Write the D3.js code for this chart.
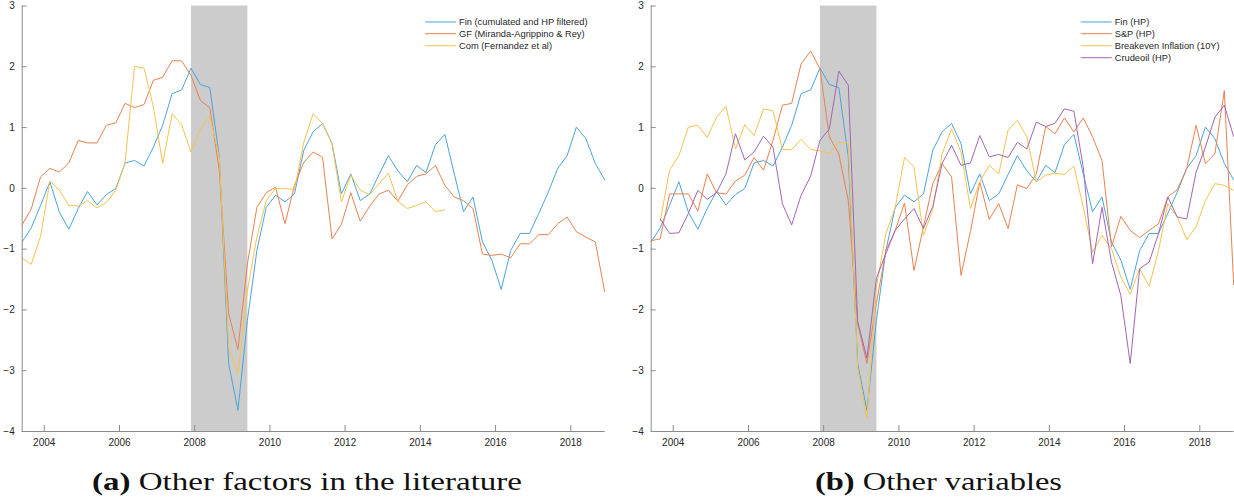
<!DOCTYPE html>
<html>
<head>
<meta charset="utf-8">
<script src="https://cdn.jsdelivr.net/npm/d3@7"></script>
<style>
  body { margin: 0; background: #fff; }
  svg { display: block; }
  .tick-label { font-family: "Liberation Sans", Arial, sans-serif; font-size: 10px; fill: #262626; }
  .legend-label { font-family: "Liberation Sans", Arial, sans-serif; font-size: 9.3px; fill: #262626; }
  .caption { font-family: "Liberation Serif", "Times New Roman", serif; font-size: 26px; fill: #111; }
</style>
</head>
<body>
<svg id="chart" width="1234" height="498"></svg>
<script>
// Quarterly observations, June 2003 to December 2018 (63 quarters)
const firstQuarter = new Date(2003, 5, 1);
const nQuarters = 63;

// Panel (a): other factors in the literature
const finFactor = [-0.90,-0.66,-0.29,0.10,-0.40,-0.68,-0.34,-0.06,-0.28,-0.11,
  -0.01,0.41,0.45,0.36,0.67,1.03,1.55,1.61,1.97,1.70,
  1.65,0.51,-2.89,-3.66,-2.18,-1.03,-0.32,-0.12,-0.23,-0.10,
  0.62,0.92,1.06,0.73,-0.10,0.23,-0.21,-0.10,0.22,0.53,
  0.28,0.10,0.37,0.25,0.71,0.88,0.23,-0.39,-0.15,-0.89,
  -1.19,-1.67,-1.03,-0.75,-0.75,-0.42,-0.07,0.32,0.53,1.00,
  0.81,0.40,0.13];
const gfFactor = [-0.62,-0.35,0.18,0.32,0.26,0.41,0.78,0.74,0.74,1.03,
  1.07,1.39,1.32,1.37,1.77,1.82,2.09,2.09,1.85,1.44,
  1.32,0.29,-2.07,-2.66,-1.25,-0.32,-0.08,0.01,-0.59,0.04,
  0.42,0.59,0.50,-0.84,-0.60,-0.08,-0.55,-0.30,-0.10,-0.04,
  -0.22,0.05,0.19,0.23,0.37,0.04,-0.15,-0.21,-0.34,-1.09,
  -1.11,-1.09,-1.15,-0.92,-0.92,-0.77,-0.77,-0.59,-0.48,-0.72,
  -0.81,-0.89,-1.71];
const comFactor = [-1.15,-1.26,-0.80,0.11,-0.04,-0.29,-0.30,-0.21,-0.33,-0.24,
  -0.04,0.42,2.00,1.97,1.33,0.40,1.22,1.04,0.59,0.97,
  1.18,0.50,-2.62,-3.07,-1.69,-0.81,-0.21,-0.01,-0.01,-0.03,
  0.75,1.22,1.06,0.72,-0.23,0.21,-0.04,-0.11,0.07,0.24,
  -0.22,-0.34,-0.29,-0.23,-0.39,-0.36];

// Panel (b): other variables
const spIndex = [-0.87,-0.84,-0.10,-0.10,-0.10,-0.38,0.23,-0.08,-0.10,0.11,
  0.21,0.50,0.29,0.78,1.36,1.39,2.04,2.25,1.96,0.84,
  0.56,-0.21,-2.23,-2.89,-1.90,-1.03,-0.70,-0.25,-1.36,-0.64,
  0.07,0.40,0.18,-1.44,-0.72,0.10,-0.52,-0.26,-0.67,0.05,
  -0.01,0.23,1.01,0.89,1.15,0.92,1.15,0.84,0.45,-0.97,
  -0.47,-0.70,-0.82,-0.70,-0.59,-0.15,-0.03,0.32,1.03,0.40,
  0.56,1.60,-1.60];
const breakeven = [null,-0.55,0.29,0.53,1.00,1.03,0.83,1.16,1.34,0.64,
  1.04,0.86,1.30,1.27,0.63,0.63,0.80,0.63,0.61,0.56,
  0.75,0.74,-2.95,-3.78,-1.63,-0.75,-0.32,0.50,0.35,-0.78,
  -0.35,0.56,0.97,0.59,-0.34,0.10,0.37,0.23,0.95,1.11,
  0.84,0.10,0.21,0.24,0.22,0.36,-0.32,-1.06,-0.78,-1.00,
  -1.47,-1.75,-1.33,-1.62,-1.03,-0.26,-0.48,-0.85,-0.64,-0.21,
  0.07,0.04,-0.04];
const crudeOil = [null,-0.51,-0.75,-0.74,-0.42,-0.04,-0.19,-0.08,0.23,0.89,
  0.46,0.59,0.85,0.67,-0.26,-0.61,-0.12,0.19,0.78,0.97,
  1.92,1.69,-2.20,-2.80,-1.49,-1.08,-0.70,-0.51,-0.34,-0.67,
  -0.30,0.40,0.70,0.37,0.41,0.86,0.51,0.55,0.50,0.75,
  0.64,1.08,1.01,1.06,1.30,1.26,0.34,-1.25,-0.32,-1.22,
  -1.77,-2.89,-1.33,-1.22,-0.75,-0.15,-0.48,-0.51,0.26,0.67,
  1.16,1.36,0.84];

const yTickValues = [3, 2, 1, 0, -1, -2, -3, -4];
const xTickYears = [2004, 2006, 2008, 2010, 2012, 2014, 2016, 2018];
const recession = [new Date(2007, 11, 1), new Date(2009, 5, 1)];

const legendA = ["Fin (cumulated and HP filtered)", "GF (Miranda-Agrippino & Rey)", "Com (Fernandez et al)"];
const legendB = ["Fin (HP)", "S&P (HP)", "Breakeven Inflation (10Y)", "Crudeoil (HP)"];
const captionA = { tag: "(a)", text: "Other factors in the literature" };
const captionB = { tag: "(b)", text: "Other variables" };

const lineColors = ["#4aa3dd", "#e8814f", "#f4c24f", "#a165b3"];

const dates = d3.range(nQuarters).map(i => d3.timeMonth.offset(firstQuarter, 3 * i));

const svg = d3.select("#chart");

function drawPanel(opts) {
  const { left, right, seriesList, names, legendX, caption, captionX, captionW } = opts;
  const top = 5.5, bottom = 431;
  const g = svg.append("g");

  const x = d3.scaleTime().domain([dates[0], dates[nQuarters - 1]]).range([left, right]);
  const y = d3.scaleLinear().domain([-4, 3]).range([bottom, top]);

  const clipId = "clip" + Math.round(left);
  svg.append("clipPath").attr("id", clipId)
    .append("rect").attr("x", left).attr("y", top - 2).attr("width", right - left + 1).attr("height", bottom - top + 4);

  // recession shading
  g.append("rect")
    .attr("x", x(recession[0])).attr("y", y(3))
    .attr("width", x(recession[1]) - x(recession[0]))
    .attr("height", y(-4) - y(3))
    .attr("fill", "#cccccc");

  const line = d3.line()
    .defined(d => d.v !== null && d.v !== undefined)
    .x(d => x(d.date)).y(d => y(d.v));

  seriesList.forEach((vals, k) => {
    const pts = dates.map((date, i) => ({ date, v: i < vals.length ? vals[i] : null }));
    g.append("path")
      .datum(pts)
      .attr("clip-path", `url(#${clipId})`)
      .attr("fill", "none")
      .attr("stroke", lineColors[k])
      .attr("stroke-width", 1)
      .attr("stroke-linejoin", "round")
      .attr("d", line);
  });

  // axes with inward ticks
  const yAxis = d3.axisLeft(y).tickValues(yTickValues).tickSize(-5).tickPadding(10).tickFormat(d3.format("d"));
  const ya = g.append("g").attr("transform", `translate(${left},0)`).call(yAxis);
  const xAxis = d3.axisBottom(x)
    .tickValues(xTickYears.map(yr => new Date(yr, 0, 1)))
    .tickSize(-6).tickPadding(8).tickFormat(d3.timeFormat("%Y"));
  const xa = g.append("g").attr("transform", `translate(0,${bottom})`).call(xAxis);

  [ya, xa].forEach(a => {
    a.select(".domain").attr("stroke", "#8c8c8c").attr("stroke-width", 1);
    a.selectAll(".tick line").attr("stroke", "#8c8c8c").attr("stroke-width", 1);
    a.selectAll(".tick text").attr("class", "tick-label").attr("fill", null);
  });
  ya.selectAll(".tick text").attr("dx", "3px");
  ya.select(".domain").attr("d", `M0.5,${top}V${bottom}`);
  xa.select(".domain").attr("d", `M${left},0.5H${right}`);

  // legend
  const rows = [22, 33.7, 45.7, 57.7];
  names.forEach((name, k) => {
    g.append("line")
      .attr("x1", legendX).attr("x2", legendX + 31)
      .attr("y1", rows[k]).attr("y2", rows[k])
      .attr("stroke", lineColors[k]).attr("stroke-width", 1);
    g.append("text").attr("class", "legend-label")
      .attr("x", legendX + 34).attr("y", rows[k]).attr("dy", "0.35em")
      .text(name);
  });

  // caption
  const cap = svg.append("text").attr("class", "caption")
    .attr("x", captionX).attr("y", 490)
    .attr("textLength", captionW).attr("lengthAdjust", "spacingAndGlyphs");
  cap.append("tspan").attr("font-weight", "bold").text(caption.tag);
  cap.append("tspan").text(" " + caption.text);
}

drawPanel({
  left: 21.7, right: 604.7,
  seriesList: [finFactor, gfFactor, comFactor],
  names: legendA, legendX: 425,
  caption: captionA, captionX: 92, captionW: 430
});

drawPanel({
  left: 650.7, right: 1233.7,
  seriesList: [finFactor, spIndex, breakeven, crudeOil],
  names: legendB, legendX: 1080.7,
  caption: captionB, captionX: 815, captionW: 247
});
</script>
</body>
</html>
